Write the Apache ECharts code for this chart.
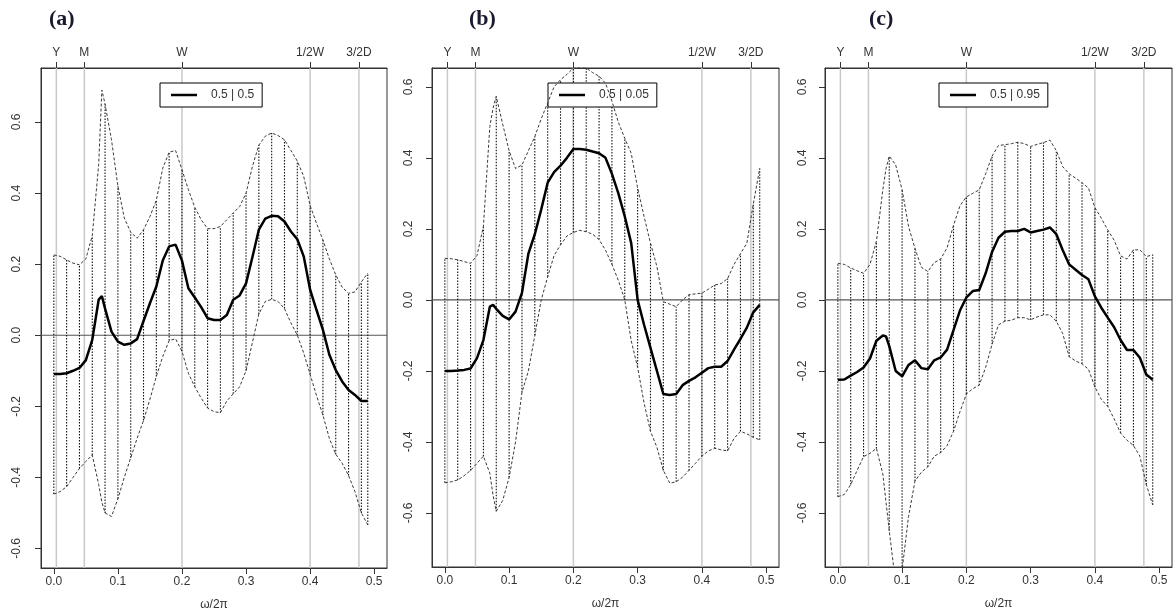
<!DOCTYPE html>
<html>
<head>
<meta charset="utf-8">
<script src="https://cdn.jsdelivr.net/npm/echarts@6/dist/echarts.min.js"></script>
<style>
html,body{margin:0;padding:0;background:#fff;}
#chart{width:1174px;height:616px;}
</style>
</head>
<body>
<div id="chart"></div>
<script>
// ---------- data ----------
const freq = [0,0.01,0.02,0.03,0.04,0.05,0.06,0.07,0.075,0.08,0.09,
  0.10,0.11,0.12,0.13,0.14,0.15,0.16,0.17,0.18,0.19,
  0.20,0.21,0.22,0.23,0.24,0.25,0.26,0.27,0.28,0.29,
  0.30,0.31,0.32,0.33,0.34,0.35,0.36,0.37,0.38,0.39,
  0.40,0.41,0.42,0.43,0.44,0.45,0.46,0.47,0.48,0.49];

const vlineFreq = [0,0.02,0.04,0.06,0.08,0.10,0.12,0.14,0.16,0.18,0.20,0.22,0.24,
  0.26,0.28,0.30,0.32,0.34,0.36,0.38,0.40,0.42,0.44,0.46,0.48,0.49];

const refFreq = [1/252, 1/21, 0.2, 0.4, 10/21];
const refLabels = ['Y','M','W','1/2W','3/2D'];
const xTicks = [0,0.1,0.2,0.3,0.4,0.5];
const yTicks = [-0.6,-0.4,-0.2,0,0.2,0.4,0.6];
const panelTitles = ['(a)','(b)','(c)'];
const legendNames = ['0.5 | 0.5','0.5 | 0.05','0.5 | 0.95'];
const xTitle = 'ω/2π';

// panel (a)
const medianA = [-0.109,-0.109,-0.107,-0.10,-0.092,-0.07,-0.013,0.10,0.11,0.075,0.01,
  -0.018,-0.027,-0.023,-0.011,0.04,0.09,0.137,0.21,0.25,0.255,
  0.21,0.132,0.106,0.079,0.048,0.043,0.043,0.057,0.10,0.112,
  0.146,0.22,0.297,0.328,0.336,0.335,0.32,0.292,0.27,0.222,
  0.128,0.071,0.015,-0.055,-0.098,-0.13,-0.154,-0.168,-0.185,-0.185];
const upperA = [0.226,0.222,0.212,0.203,0.198,0.215,0.28,0.48,0.69,0.65,0.55,
  0.42,0.33,0.29,0.273,0.297,0.334,0.38,0.47,0.515,0.52,
  0.466,0.41,0.36,0.325,0.30,0.30,0.306,0.325,0.344,0.362,
  0.40,0.475,0.535,0.56,0.569,0.562,0.55,0.52,0.49,0.447,
  0.365,0.315,0.268,0.215,0.17,0.135,0.118,0.122,0.15,0.175];
const lowerA = [-0.447,-0.44,-0.426,-0.40,-0.375,-0.355,-0.337,-0.42,-0.47,-0.50,-0.51,
  -0.46,-0.40,-0.345,-0.29,-0.24,-0.18,-0.116,-0.06,-0.015,-0.01,
  -0.045,-0.107,-0.145,-0.177,-0.205,-0.215,-0.218,-0.185,-0.165,-0.145,
  -0.10,-0.02,0.06,0.095,0.101,0.095,0.075,0.035,0.0,-0.05,
  -0.11,-0.17,-0.225,-0.29,-0.335,-0.36,-0.395,-0.44,-0.50,-0.534];

// panel (b)
const medianB = [-0.20,-0.20,-0.199,-0.197,-0.193,-0.164,-0.113,-0.019,-0.014,-0.025,-0.045,
  -0.055,-0.033,0.02,0.13,0.185,0.255,0.33,0.36,0.378,0.40,
  0.425,0.425,0.423,0.418,0.413,0.40,0.355,0.30,0.235,0.16,
  0.0,-0.07,-0.135,-0.2,-0.265,-0.268,-0.265,-0.24,-0.228,-0.218,
  -0.205,-0.192,-0.188,-0.188,-0.172,-0.14,-0.11,-0.078,-0.035,-0.014];
const upperB = [0.117,0.116,0.113,0.108,0.103,0.125,0.207,0.488,0.54,0.573,0.495,
  0.42,0.37,0.38,0.42,0.46,0.51,0.555,0.60,0.62,0.635,
  0.653,0.655,0.653,0.64,0.63,0.61,0.56,0.50,0.455,0.413,
  0.315,0.235,0.16,0.094,-0.005,-0.012,-0.019,0.0,0.015,0.017,
  0.019,0.03,0.042,0.046,0.06,0.10,0.13,0.16,0.27,0.37];
const lowerB = [-0.515,-0.512,-0.507,-0.495,-0.48,-0.46,-0.44,-0.488,-0.55,-0.595,-0.565,
  -0.50,-0.40,-0.26,-0.20,-0.10,0.0,0.065,0.125,0.155,0.18,
  0.19,0.196,0.192,0.185,0.17,0.14,0.10,0.055,0.0,-0.115,
  -0.19,-0.29,-0.37,-0.415,-0.48,-0.516,-0.512,-0.499,-0.48,-0.46,
  -0.44,-0.425,-0.418,-0.422,-0.425,-0.39,-0.37,-0.377,-0.387,-0.394];

// panel (c)
const medianC = [-0.225,-0.224,-0.213,-0.203,-0.19,-0.165,-0.115,-0.1,-0.103,-0.13,-0.2,
  -0.215,-0.183,-0.17,-0.192,-0.195,-0.17,-0.162,-0.14,-0.085,-0.03,
  0.007,0.025,0.028,0.075,0.135,0.175,0.192,0.194,0.194,0.2,
  0.19,0.194,0.198,0.204,0.185,0.14,0.1,0.085,0.07,0.058,
  0.01,-0.022,-0.05,-0.077,-0.113,-0.141,-0.141,-0.163,-0.21,-0.225];
const upperC = [0.103,0.1,0.09,0.082,0.075,0.10,0.165,0.31,0.37,0.405,0.38,
  0.31,0.207,0.145,0.092,0.08,0.105,0.115,0.147,0.21,0.265,
  0.29,0.30,0.31,0.355,0.405,0.435,0.437,0.44,0.444,0.44,
  0.432,0.438,0.443,0.45,0.42,0.375,0.355,0.343,0.33,0.315,
  0.26,0.23,0.197,0.168,0.124,0.115,0.141,0.141,0.122,0.127];
const lowerC = [-0.554,-0.548,-0.52,-0.48,-0.441,-0.432,-0.418,-0.49,-0.57,-0.65,-0.80,
  -0.76,-0.61,-0.51,-0.485,-0.47,-0.44,-0.43,-0.41,-0.37,-0.315,
  -0.265,-0.25,-0.24,-0.19,-0.125,-0.07,-0.06,-0.057,-0.05,-0.05,
  -0.056,-0.048,-0.042,-0.042,-0.06,-0.095,-0.16,-0.172,-0.18,-0.195,
  -0.245,-0.28,-0.30,-0.335,-0.375,-0.395,-0.41,-0.44,-0.52,-0.577];

const panels = [
  {median: medianA, upper: upperA, lower: lowerA},
  {median: medianB, upper: upperB, lower: lowerB},
  {median: medianC, upper: upperC, lower: lowerC}
];

// ---------- layout ----------
const layout = [
  {grid:{left:41, top:68, width:346, height:500}, ymin:-0.655, ymax:0.752, ylabMargin:18, title:49, legend:{left:160, top:83}},
  {grid:{left:432, top:68, width:347, height:499}, ymin:-0.752, ymax:0.653, ylabMargin:17, title:469, legend:{left:548, top:83}},
  {grid:{left:825, top:68, width:347, height:499}, ymin:-0.752, ymax:0.653, ylabMargin:16, title:869, legend:{left:939, top:83}}
];

const FONT = 'Liberation Sans, Arial, sans-serif';
const TXT = '#333';

const grids = [], xAxes = [], yAxes = [], series = [], legends = [], titles = [];

function nearestIdx(arr, v){
  let b = 0; for (let i=1;i<arr.length;i++){ if (Math.abs(arr[i]-v) < Math.abs(arr[b]-v)) b = i; } return b;
}

layout.forEach((L, g) => {
  const P = panels[g];
  grids.push(Object.assign({show:true, borderColor:'#333', borderWidth:1, backgroundColor:'transparent'}, L.grid));
  xAxes.push({
    type:'value', gridIndex:g, position:'bottom', min:-0.02, max:0.52,
    axisLine:{show:true, onZero:false, lineStyle:{color:'#333', width:1}},
    axisTick:{show:true, length:6, customValues:xTicks, lineStyle:{color:'#333'}},
    axisLabel:{customValues:xTicks, margin:8, fontSize:12, color:TXT, fontFamily:FONT, formatter:v=>v.toFixed(1)},
    splitLine:{show:false},
    name:xTitle, nameLocation:'middle', nameGap:31,
    nameTextStyle:{fontSize:12, color:TXT, fontFamily:FONT}
  });
  xAxes.push({
    type:'value', gridIndex:g, position:'top', min:-0.02, max:0.52,
    axisLine:{show:true, onZero:false, lineStyle:{color:'#333', width:1}},
    axisTick:{show:true, length:6, customValues:refFreq, lineStyle:{color:'#333'}},
    axisLabel:{customValues:refFreq, margin:9, fontSize:12, color:TXT, fontFamily:FONT,
      formatter:v=>refLabels[nearestIdx(refFreq, v)]},
    splitLine:{show:false}
  });
  yAxes.push({
    type:'value', gridIndex:g, min:L.ymin, max:L.ymax,
    axisLine:{show:true, onZero:false, lineStyle:{color:'#333', width:1}},
    axisTick:{show:true, length:6, customValues:yTicks, lineStyle:{color:'#333'}},
    axisLabel:{customValues:yTicks, rotate:90, margin:L.ylabMargin, fontSize:12, color:TXT, fontFamily:FONT,
      formatter:v=>v.toFixed(1)},
    splitLine:{show:false}
  });

  const xi = g*2, yi = g;
  // reference vertical gray lines
  series.push({
    type:'custom', xAxisIndex:xi, yAxisIndex:yi, silent:true, z:1,
    data: refFreq.map(v=>[v,0]),
    renderItem:(params, api)=>{
      const cs = params.coordSys;
      const x = api.coord([api.value(0), 0])[0];
      return {type:'line', shape:{x1:x, y1:cs.y, x2:x, y2:cs.y+cs.height},
        style:{stroke:'#c9c9c9', lineWidth:1.5}};
    }
  });
  // zero line
  series.push({
    type:'custom', xAxisIndex:xi, yAxisIndex:yi, silent:true, z:2,
    data:[[0,0]],
    renderItem:(params, api)=>{
      const cs = params.coordSys;
      const y = api.coord([0, api.value(1)])[1];
      return {type:'line', shape:{x1:cs.x, y1:y, x2:cs.x+cs.width, y2:y},
        style:{stroke:'#555', lineWidth:1.2}};
    }
  });
  // vertical dotted segments between bounds
  series.push({
    type:'custom', xAxisIndex:xi, yAxisIndex:yi, silent:true, z:3, clip:true,
    data: vlineFreq.map(v=>{ const i = nearestIdx(freq, v); return [freq[i], P.lower[i], P.upper[i]]; }),
    renderItem:(params, api)=>{
      const p1 = api.coord([api.value(0), api.value(1)]);
      const p2 = api.coord([api.value(0), api.value(2)]);
      return {type:'line', shape:{x1:p1[0], y1:p1[1], x2:p2[0], y2:p2[1]},
        style:{stroke:'#111', lineWidth:1.1, lineDash:[1.5,1.5]}};
    }
  });
  // bounds
  [P.upper, P.lower].forEach(arr=>{
    series.push({
      type:'line', xAxisIndex:xi, yAxisIndex:yi, z:4, symbol:'none', silent:true,
      data: freq.map((f,i)=>[f, arr[i]]),
      lineStyle:{color:'#3a3a3a', width:1, type:[3,2]}
    });
  });
  // median
  series.push({
    name: legendNames[g],
    type:'line', xAxisIndex:xi, yAxisIndex:yi, z:5, symbol:'none', silent:true,
    data: freq.map((f,i)=>[f, P.median[i]]),
    lineStyle:{color:'#000', width:2.5},
    itemStyle:{color:'#000'}
  });

  legends.push({
    data:[{name:legendNames[g], icon:'rect'}], left:L.legend.left, top:L.legend.top,
    borderColor:'#000', borderWidth:1, borderRadius:0, backgroundColor:'#fff',
    padding:[5,8,5,11], itemWidth:26, itemHeight:2.5,
    itemStyle:{color:'#000', borderWidth:0},
    textStyle:{fontSize:12, color:TXT, fontFamily:FONT, padding:[0,0,0,9], lineHeight:14},
    selectedMode:false
  });
  titles.push({
    text:panelTitles[g], left:L.title, top:8, padding:0,
    textStyle:{fontFamily:'Liberation Serif, Times New Roman, serif', fontSize:22, fontWeight:'bold', color:'#1a1a2e'}
  });
});

const chart = echarts.init(document.getElementById('chart'), null, {renderer:'canvas'});
chart.setOption({
  animation:false,
  backgroundColor:'#fff',
  title:titles,
  legend:legends,
  grid:grids,
  xAxis:xAxes,
  yAxis:yAxes,
  series:series
});
</script>
</body>
</html>
